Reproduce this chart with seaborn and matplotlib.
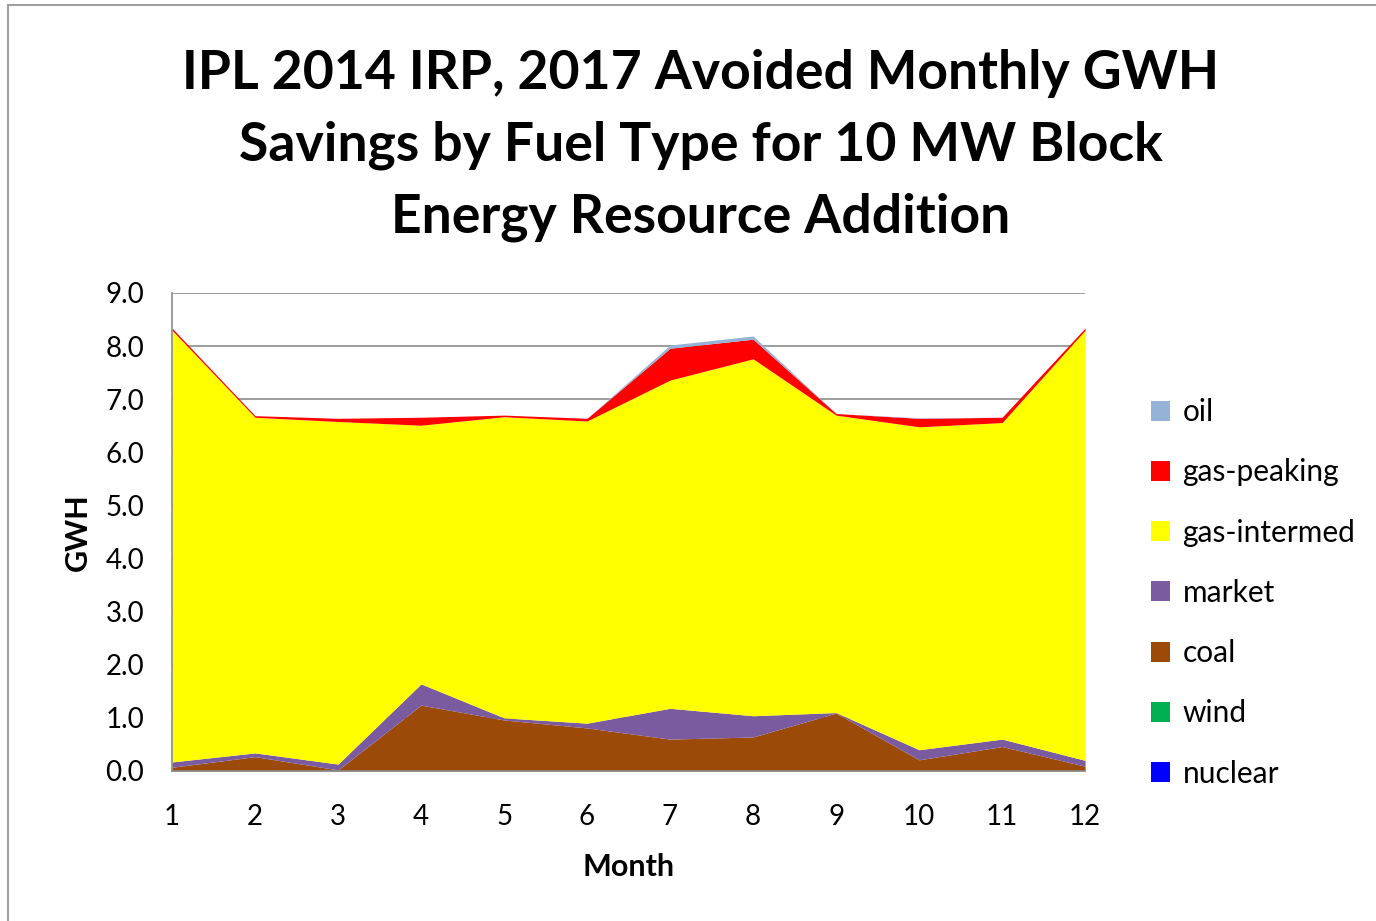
import matplotlib
matplotlib.use("Agg")
import matplotlib.pyplot as plt
import seaborn as sns
import pandas as pd
from matplotlib.lines import Line2D
from matplotlib.patches import Patch

# monthly avoided GWH by fuel type
months = [1, 2, 3, 4, 5, 6, 7, 8, 9, 10, 11, 12]
nuclear = [0.0] * 12
wind = [0.0] * 12
coal = [0.07, 0.27, 0.02, 1.24, 0.96, 0.81, 0.60, 0.64, 1.09, 0.21, 0.46, 0.09]
market = [0.10, 0.07, 0.11, 0.40, 0.04, 0.09, 0.58, 0.40, 0.01, 0.19, 0.14, 0.11]
gas_intermed = [8.13, 6.32, 6.45, 4.87, 5.67, 5.69, 6.18, 6.72, 5.60, 6.08, 5.96, 8.10]
gas_peaking = [0.04, 0.03, 0.06, 0.15, 0.03, 0.05, 0.60, 0.37, 0.03, 0.16, 0.10, 0.04]
oil = [0.0, 0.0, 0.0, 0.0, 0.0, 0.0, 0.06, 0.06, 0.0, 0.01, 0.0, 0.0]

series = ['nuclear', 'wind', 'coal', 'market', 'gas-intermed', 'gas-peaking', 'oil']
colors = ['#0000FF', '#00B050', '#9C4A08', '#7B5BA0', '#FFFF00', '#FF0000', '#95B3D7']

df = pd.DataFrame({'month': months, 'nuclear': nuclear, 'wind': wind, 'coal': coal,
                   'market': market, 'gas-intermed': gas_intermed,
                   'gas-peaking': gas_peaking, 'oil': oil})

sns.set_style('white')
plt.rcParams['font.family'] = ['Lato', 'DejaVu Sans']
plt.rcParams['text.color'] = 'black'
plt.rcParams['axes.labelcolor'] = 'black'

fig = plt.figure(figsize=(13.76, 9.21), dpi=100)
ax = fig.add_axes([0.125, 0.1629, 0.6636, 0.519])

ax.stackplot(df['month'], [df[s] for s in series], colors=colors, linewidth=0)

ax.set_xlim(1, 12)
ax.set_ylim(0, 9)
ax.set_xticks(months)
ax.set_yticks(range(0, 10))
ax.set_yticklabels([f'{v:.1f}' for v in range(0, 10)])
ax.yaxis.grid(True, color='#8C8C8C', linewidth=1.2)
ax.set_axisbelow(True)
ax.tick_params(axis='both', labelsize=20, colors='#8C8C8C', labelcolor='black',
               direction='out', length=10, width=1.2)
ax.tick_params(axis='x', pad=14)
ax.tick_params(axis='y', pad=10)
sns.despine(ax=ax, top=True, right=True)
for side in ['left', 'bottom']:
    ax.spines[side].set_color('#8C8C8C')
    ax.spines[side].set_linewidth(1.2)

ax.set_xlabel('Month', fontsize=22, fontweight='bold', labelpad=16)
ax.set_ylabel('GWH', fontsize=22, fontweight='bold', labelpad=10)

fig.suptitle('IPL 2014 IRP, 2017 Avoided Monthly GWH\nSavings by Fuel Type for 10 MW Block\nEnergy Resource Addition',
             x=0.509, y=0.947, fontsize=38.5, fontweight='bold', linespacing=1.56, color='black')

handles = [Patch(facecolor=c, edgecolor='none') for c in colors[::-1]]
fig.legend(handles, series[::-1], loc='upper left', bbox_to_anchor=(0.817, 0.597),
           frameon=False, fontsize=21.5, handlelength=0.65, handleheight=0.65,
           handletextpad=0.4, labelspacing=1.08)

# chart border (top and left edges visible)
fig.add_artist(Line2D([8 / 1376, 1], [1 - 5 / 921, 1 - 5 / 921], color='#A0A0A0', linewidth=1.5))
fig.add_artist(Line2D([8 / 1376, 8 / 1376], [0, 1 - 5 / 921], color='#A0A0A0', linewidth=1.5))

fig.savefig('out.png', dpi=100)
